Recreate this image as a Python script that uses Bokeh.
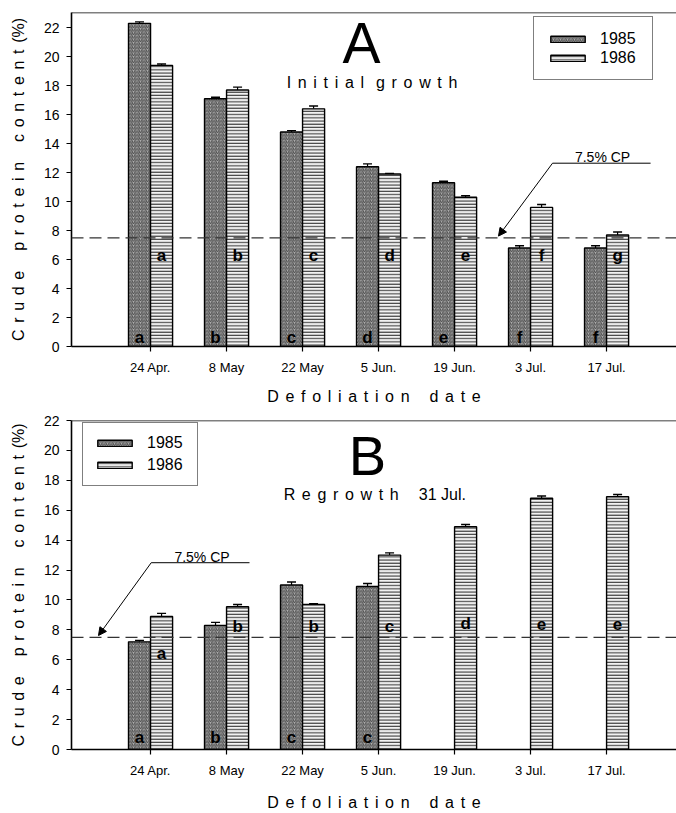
from bokeh.plotting import figure
from bokeh.models import (ColumnDataSource, Range1d, FixedTicker, Span, Legend, LegendItem,
                          Whisker, TeeHead, Label, Arrow, NormalHead)
from bokeh.layouts import column
from bokeh.core.properties import value
from bokeh.embed import file_html
from bokeh.resources import INLINE

# ---------------- data ----------------
dates = ["24 Apr.", "8 May", "22 May", "5 Jun.", "19 Jun.", "3 Jul.", "17 Jul."]

a_1985 = [22.3, 17.1, 14.8, 12.4, 11.3, 6.8, 6.8]
a_1985_se = [0.1, 0.1, 0.1, 0.2, 0.1, 0.15, 0.15]
a_1985_letters = ["a", "b", "c", "d", "e", "f", "f"]
a_1986 = [19.4, 17.7, 16.4, 11.9, 10.3, 9.6, 7.7]
a_1986_se = [0.1, 0.2, 0.2, 0.05, 0.1, 0.2, 0.2]
a_1986_letters = ["a", "b", "c", "d", "e", "f", "g"]

b_1985 = [7.2, 8.3, 11.0, 10.9]
b_1985_se = [0.1, 0.2, 0.2, 0.2]
b_1985_letters = ["a", "b", "c", "c"]
b_1986 = [8.9, 9.55, 9.7, 13.0, 14.9, 16.8, 16.9]
b_1986_se = [0.2, 0.15, 0.05, 0.15, 0.15, 0.15, 0.15]
b_1986_letters = ["a", "b", "b", "c", "d", "e", "e"]

y_ticks = [0, 2, 4, 6, 8, 10, 12, 14, 16, 18, 20, 22]
cp_level = 7.5
years = ["1985", "1986"]

FONT = "Liberation Sans"
G = "\u2005\u2006"          # letter gap
W = "\u2003\u2005"          # word gap


def spaced(s, word=W):
    return word.join(G.join(w) for w in s.split(" "))


OFF = 0.145
BW = 0.29


def make_fig(height, ymax, btop, bbot, lab_standoff):
    p = figure(width=676, height=height, x_range=Range1d(-0.04, 7.92), y_range=Range1d(0, ymax),
               output_backend="svg", toolbar_location=None,
               min_border_left=71, min_border_right=0, min_border_top=btop, min_border_bottom=bbot)
    p.outline_line_color = None
    p.grid.visible = False
    p.background_fill_color = "white"
    p.border_fill_color = "white"

    p.yaxis.ticker = FixedTicker(ticks=y_ticks)
    p.xaxis.ticker = FixedTicker(ticks=list(range(1, len(dates) + 1)))
    p.xaxis.major_label_overrides = {i + 1: d for i, d in enumerate(dates)}
    for ax in (p.xaxis, p.yaxis):
        ax.axis_line_width = 1.6
        ax.axis_line_color = "black"
        ax.major_tick_in = 0
        ax.major_tick_out = 5
        ax.major_tick_line_width = 1.2
        ax.minor_tick_line_color = None
        ax.major_label_text_font = FONT
        ax.major_label_text_color = "black"
        ax.axis_label_text_font = FONT
        ax.axis_label_text_font_style = "normal"
        ax.axis_label_text_font_size = "16px"
        ax.axis_label_text_color = "black"
    p.xaxis.major_label_text_font_size = "13px"
    p.yaxis.major_label_text_font_size = "14px"
    p.xaxis.major_label_standoff = 8
    p.yaxis.major_label_standoff = 7
    p.xaxis.axis_label_standoff = lab_standoff
    p.yaxis.axis_label_standoff = 14
    p.xaxis.axis_label = spaced("Defoliation date")
    p.yaxis.axis_label = spaced("Crude protein content") + G + "(%)"

    p.add_layout(Span(location=ymax, dimension="width", line_color="black", line_width=1.6))
    p.add_layout(Span(location=cp_level, dimension="width", line_color="#333333",
                      line_width=1.3, line_dash="12 6"))
    return p


def add_bars(p, v85, se85, l85, v86, se86, l86, y85_lab, y86_lab, legend_loc, pad, lh, sp):
    n85 = len(v85)
    n86 = len(v86)
    s85 = ColumnDataSource(dict(
        x=[i + 1 - OFF for i in range(n85)], top=v85,
        up=[v + e for v, e in zip(v85, se85)], lab=l85, ly=y85_lab[:n85]))
    s86 = ColumnDataSource(dict(
        x=[i + 1 + OFF for i in range(n86)], top=v86,
        up=[v + e for v, e in zip(v86, se86)], lab=l86, ly=y86_lab[:n86]))

    r85 = p.vbar(x="x", top="top", bottom=0, width=BW, source=s85,
                 fill_color="#b0b0b0", hatch_pattern="/", hatch_color="#4a4a4a",
                 hatch_scale=3.5, hatch_weight=1.0, line_color="black", line_width=1.4)
    r86 = p.vbar(x="x", top="top", bottom=0, width=BW, source=s86,
                 fill_color="#f2f2f2", hatch_pattern="-", hatch_color="#262626",
                 hatch_scale=3.2, hatch_weight=1.0, line_color="black", line_width=1.4)
    for s in (s85, s86):
        p.add_layout(Whisker(source=s, base="x", upper="up", lower="top", dimension="height",
                             line_color="black", line_width=1.2,
                             upper_head=TeeHead(size=9, line_color="black", line_width=1.4),
                             lower_head=None))
        p.text(x="x", y="ly", text="lab", source=s, text_align="center", text_baseline="middle",
               text_font=value(FONT), text_font_style="bold", text_font_size="17px",
               text_color="black")

    legend = Legend(items=[LegendItem(label=years[0], renderers=[r85]),
                           LegendItem(label=years[1], renderers=[r86])],
                    location=legend_loc, orientation="vertical",
                    border_line_color="black", border_line_width=1, background_fill_color="white",
                    background_fill_alpha=1, label_text_font=FONT, label_text_font_size="16px",
                    label_text_color="black", glyph_width=43, glyph_height=8, label_standoff=11,
                    padding=pad, spacing=sp, margin=0, label_height=lh, label_width=40)
    p.add_layout(legend)


def cp_note(p, x_text, y_text, x0, x1, y_line, x_tip, y_tip):
    p.add_layout(Label(x=x_text, y=y_text, text="7.5% CP", text_align="center",
                       text_baseline="alphabetic", text_font=FONT, text_font_size="14px",
                       text_color="black"))
    p.segment(x0=[x0], y0=[y_line], x1=[x1], y1=[y_line], line_color="black", line_width=1)
    p.add_layout(Arrow(x_start=x0, y_start=y_line, x_end=x_tip, y_end=y_tip,
                       line_color="black", line_width=1,
                       end=NormalHead(size=8, fill_color="black", line_color="black")))


# ---------------- panel A ----------------
pa = make_fig(407, 23.05, 12, 60, 10)
add_bars(pa, a_1985, a_1985_se, a_1985_letters, a_1986, a_1986_se, a_1986_letters,
         [0.65] * 7, [6.3] * 7, (462, 266), 12, 19, 0)
pa.add_layout(Label(x=3.776, y=20.94, text="A", text_align="center", text_baseline="alphabetic",
                    text_font=FONT, text_font_size="57px", text_color="black"))
pa.add_layout(Label(x=3.914, y=18.22, text=spaced("Initial growth", "\u2002\u2005"),
                    text_align="center", text_baseline="alphabetic",
                    text_font=FONT, text_font_size="16px", text_color="black"))
cp_note(pa, 6.947, 13.09, 6.289, 7.579, 12.65, 5.578, 7.62)

# ---------------- panel B ----------------
pb = make_fig(406, 22, 13, 63, 13)
add_bars(pb, b_1985, b_1985_se, b_1985_letters, b_1986, b_1986_se, b_1986_letters,
         [0.8] * 4, [6.4, 8.2, 8.2, 8.2, 8.4, 8.4, 8.4], (11, 263), 10, 20, 2)
pb.add_layout(Label(x=3.855, y=19.67, text="B", text_align="center", text_baseline="alphabetic",
                    text_font=FONT, text_font_size="56px", text_color="black"))
pb.add_layout(Label(x=3.95, y=17.07, text=spaced("Regrowth") + W + "31 Jul.",
                    text_align="center", text_baseline="alphabetic",
                    text_font=FONT, text_font_size="16px", text_color="black"))
cp_note(pb, 1.677, 12.9, 1.009, 2.302, 12.49, 0.315, 7.62)

layout = column(pa, pb, spacing=0)
open("out.html", "w").write(file_html(layout, INLINE))
